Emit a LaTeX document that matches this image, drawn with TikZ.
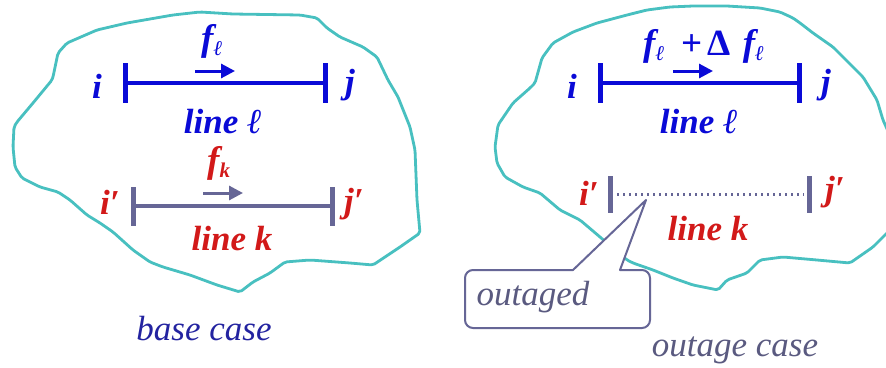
\documentclass[tikz,border=0pt]{standalone}
\usepackage{fontspec}
\setmainfont{Liberation Serif}
\usetikzlibrary{arrows.meta}
\definecolor{blobc}{RGB}{72,192,192}
\definecolor{bluc}{RGB}{10,10,215}
\definecolor{redc}{RGB}{210,25,25}
\definecolor{grayc}{RGB}{102,102,150}
\definecolor{basec}{RGB}{35,35,160}
\definecolor{outc}{RGB}{90,90,128}
\newcommand{\subx}[1]{\raisebox{-5pt}{\fontsize{21}{21}\selectfont #1}}
\tikzset{
  blob/.style={draw=blobc, line width=2.8pt, line join=round, rounded corners=2pt},
  lab/.style={font=\fontsize{35}{40}\selectfont\bfseries\itshape, inner sep=0pt, anchor=base},
  flab/.style={font=\fontsize{37}{42}\selectfont\bfseries\itshape, inner sep=0pt, anchor=base west},
  caselab/.style={font=\fontsize{35}{40}\selectfont\itshape, inner sep=0pt, anchor=base},
  busbar/.style={line width=5pt},
  lineseg/.style={line width=3.6pt},
  flowarrow/.style={line width=3pt, -{Triangle[length=14pt,width=14pt]}},
  outline/.style={line width=3pt, dash pattern=on 2.4pt off 3.6pt},
  callout/.style={draw=grayc, fill=white, line width=2pt, line join=round}
}
\begin{document}
\begin{tikzpicture}[x=1pt,y=-1pt]
\useasboundingbox (0,0) rectangle (886,367);
\fill[white] (0,0) rectangle (886,367);
% ---------------- left blob
\draw[blob] (52,80) -- (33,103) -- (17,122) -- (14,127) -- (13,147) -- (15,167) -- (22,178) -- (40,187) -- (58,192) -- (70,200) -- (87,215) -- (100,223) -- (113,232) -- (133,250) -- (150,262) -- (163,267) -- (190,275) -- (217,285) -- (240,292) -- (253,282) -- (270,273) -- (285,262) -- (310,260) -- (350,263) -- (373,265) -- (400,247) -- (420,233) -- (417,200) -- (415,150) -- (410,127) -- (398,97) -- (388,80) -- (377,57) -- (363,47) -- (340,37) -- (327,28) -- (317,18) -- (300,15) -- (233,14) -- (200,12) -- (173,15) -- (127,23) -- (97,30) -- (67,43) -- (58,53) -- (53,77) -- cycle;
% ---------------- right blob
\begin{scope}
\clip (0,0) rectangle (886,367);
\draw[blob] (498,125) -- (513,103) -- (530,88) -- (535,83) -- (542,58) -- (553,43) -- (573,32) -- (597,23) -- (627,15) -- (647,10) -- (670,7) -- (693,6) -- (727,6) -- (760,8) -- (780,12) -- (793,18) -- (800,23) -- (813,33) -- (833,47) -- (853,67) -- (863,77) -- (877,100) -- (883,120) -- (892,140) -- (892,228) -- (873,247) -- (850,263) -- (817,260) -- (783,257) -- (760,260) -- (747,273) -- (727,280) -- (718,290) -- (693,285) -- (673,278) -- (653,270) -- (633,263) -- (627,260) -- (600,237) -- (580,220) -- (560,210) -- (540,193) -- (523,187) -- (505,177) -- (497,163) -- (495,147) -- cycle;
\end{scope}
% ================= LEFT: base case
\coordinate (Li) at (125,83);
\coordinate (Lj) at (325,83);
\draw[bluc, lineseg] (Li) -- (Lj);
\draw[bluc, busbar] (Li) ++(0,-20) -- ++(0,40);
\draw[bluc, busbar] (Lj) ++(0,-20) -- ++(0,40);
\coordinate (Lfa) at (195,71);
\coordinate (Lfb) at (235,71);
\draw[bluc, flowarrow] (Lfa) -- (Lfb);
\node[lab, text=bluc] (Lni) at (97,98) {i};
\node[lab, text=bluc] (Lnj) at (350,93) {j};
\node[flab, text=bluc] (Lfl) at (201,50) {f\subx{ℓ}};
\node[lab, text=bluc] (Llinel) at (223,133) {line ℓ};
\coordinate (Ki) at (133,206);
\coordinate (Kj) at (332,206);
\draw[grayc, lineseg] (Ki) -- (Kj);
\draw[grayc, busbar] (Ki) ++(0,-19) -- ++(0,39);
\draw[grayc, busbar] (Kj) ++(0,-19) -- ++(0,39);
\coordinate (Kfa) at (203,193);
\coordinate (Kfb) at (243,193);
\draw[grayc, flowarrow] (Kfa) -- (Kfb);
\node[flab, text=redc] (Kfk) at (207,172) {f\subx{k}};
\node[lab, text=redc] (Kni) at (110,214) {i′};
\node[lab, text=redc] (Knj) at (354,212) {j′};
\node[lab, text=redc] (Klinek) at (232,250) {line k};
\node[caselab, text=basec] (base) at (204,340) {base case};
% ================= RIGHT: outage case
\coordinate (Ri) at (600,83);
\coordinate (Rj) at (799,83);
\draw[bluc, lineseg] (Ri) -- (Rj);
\draw[bluc, busbar] (Ri) ++(0,-20) -- ++(0,40);
\draw[bluc, busbar] (Rj) ++(0,-20) -- ++(0,40);
\coordinate (Rfa) at (673,71);
\coordinate (Rfb) at (713,71);
\draw[bluc, flowarrow] (Rfa) -- (Rfb);
\node[lab, text=bluc] (Rni) at (572,98) {i};
\node[lab, text=bluc] (Rnj) at (826,93) {j};
\node[flab, text=bluc] (Rfl) at (643,55) {f\subx{ℓ}\hspace{17pt}{\upshape +\hspace{5pt}Δ}\hspace{12pt}f\subx{ℓ}};
\node[lab, text=bluc] (Rlinel) at (699,133) {line ℓ};
\coordinate (RKi) at (610,194);
\coordinate (RKj) at (809,194);
\draw[grayc, outline] ([xshift=7pt]RKi) -- ([xshift=-5pt]RKj);
\draw[grayc, busbar] (RKi) ++(0,-18) -- ++(0,37);
\draw[grayc, busbar] (RKj) ++(0,-18) -- ++(0,37);
\node[lab, text=redc] (RKni) at (589,205) {i′};
\node[lab, text=redc] (RKnj) at (835,200) {j′};
\node[lab, text=redc] (RKlinek) at (708,240) {line k};
% callout
\coordinate (tip) at (646,200);
\draw[callout] (573,270) -- (tip) -- (620,270) -- (642,270)
  arc[start angle=270, end angle=360, radius=8] -- (650,320)
  arc[start angle=0, end angle=90, radius=8] -- (473,328)
  arc[start angle=90, end angle=180, radius=8] -- (465,278)
  arc[start angle=180, end angle=270, radius=8] -- cycle;
\node[caselab, text=outc] (outaged) at (533,305) {outaged};
\node[caselab, text=outc] (outcase) at (735,356) {outage case};
\end{tikzpicture}
\end{document}
